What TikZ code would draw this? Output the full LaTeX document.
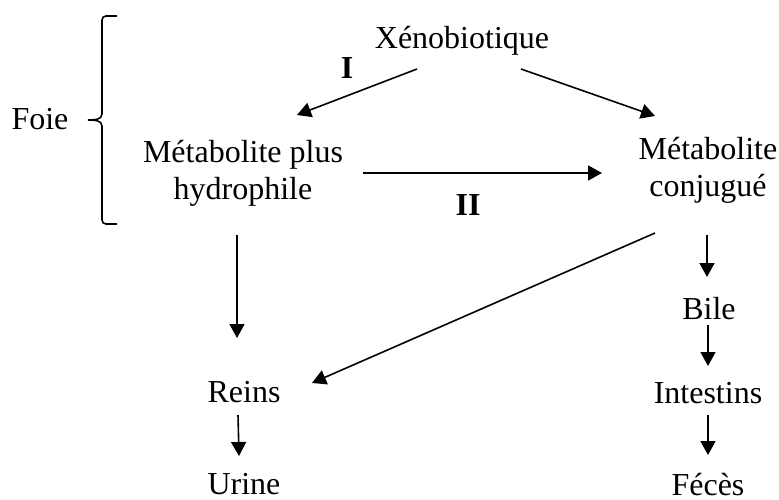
\documentclass[tikz,border=0pt]{standalone}
\usepackage{fontspec}
\setmainfont{Liberation Serif}
\usetikzlibrary{arrows.meta}
\begin{document}
\begin{tikzpicture}[x=1pt,y=-1pt,
    txt/.style={font=\fontsize{32}{37}\selectfont,inner sep=2pt},
    arr/.style={line width=1.6pt,-{Triangle[length=14pt,width=15pt]}}]
      \useasboundingbox (0,0) rectangle (779,500);
      \draw
        (462,49) node[txt,anchor=base] (xeno){Xénobiotique}
        (243,173) node[txt,align=center] (hydro){Métabolite plus\\hydrophile}
        (708,170) node[txt,align=center] (conj){Métabolite\\conjugué}
        (244,402) node[txt,anchor=base] (reins){Reins}
        (244,494) node[txt,anchor=base] (urine){Urine}
        (709,319) node[txt,anchor=base] (bile){Bile}
        (708,403) node[txt,anchor=base] (intes){Intestins}
        (708,495) node[txt,anchor=base,inner sep=0pt] (feces){Fécès}
        (40,130) node[txt,anchor=base] (foie){Foie}
        (347,79) node[txt,anchor=base,font=\fontsize{32}{37}\selectfont\bfseries] (one){I}
        (468,215) node[txt,anchor=base,font=\fontsize{32}{37}\selectfont\bfseries] (two){II};
      \begin{scope}[arr]
        \draw ([shift={(-45,20)}]xeno.base) to ([shift={(54,-58)}]hydro.center);
        \draw ([shift={(59,20)}]xeno.base) to ([shift={(-53,-54)}]conj.center);
        \draw ([shift={(120,0)}]hydro.center) to ([shift={(-106,3)}]conj.center);
        \draw ([shift={(-6,62)}]hydro.center) to ([shift={(-7,-64)}]reins.base);
        \draw ([shift={(-6,13)}]reins.base) to ([shift={(-5,-38)}]urine.base);
        \draw ([shift={(-53,63)}]conj.center) to ([shift={(68,-19)}]reins.base);
        \draw ([shift={(-1,65)}]conj.center) to ([shift={(-2,-42)}]bile.base);
        \draw ([shift={(-1,6)}]bile.base) to ([shift={(0,-37)}]intes.base);
        \draw ([shift={(0,12)}]intes.base) to ([shift={(0,-40)}]feces.base);
      \end{scope}
      % accolade du foie
      \draw[line width=1.6pt] (117,16) -- (106,16) to[out=180,in=90] (102,20)
        -- (102,114) to[out=-90,in=0] (88,120) to[out=0,in=90] (102,126)
        -- (102,220) to[out=-90,in=180] (106,224) -- (117,224);
    \end{tikzpicture}
\end{document}
